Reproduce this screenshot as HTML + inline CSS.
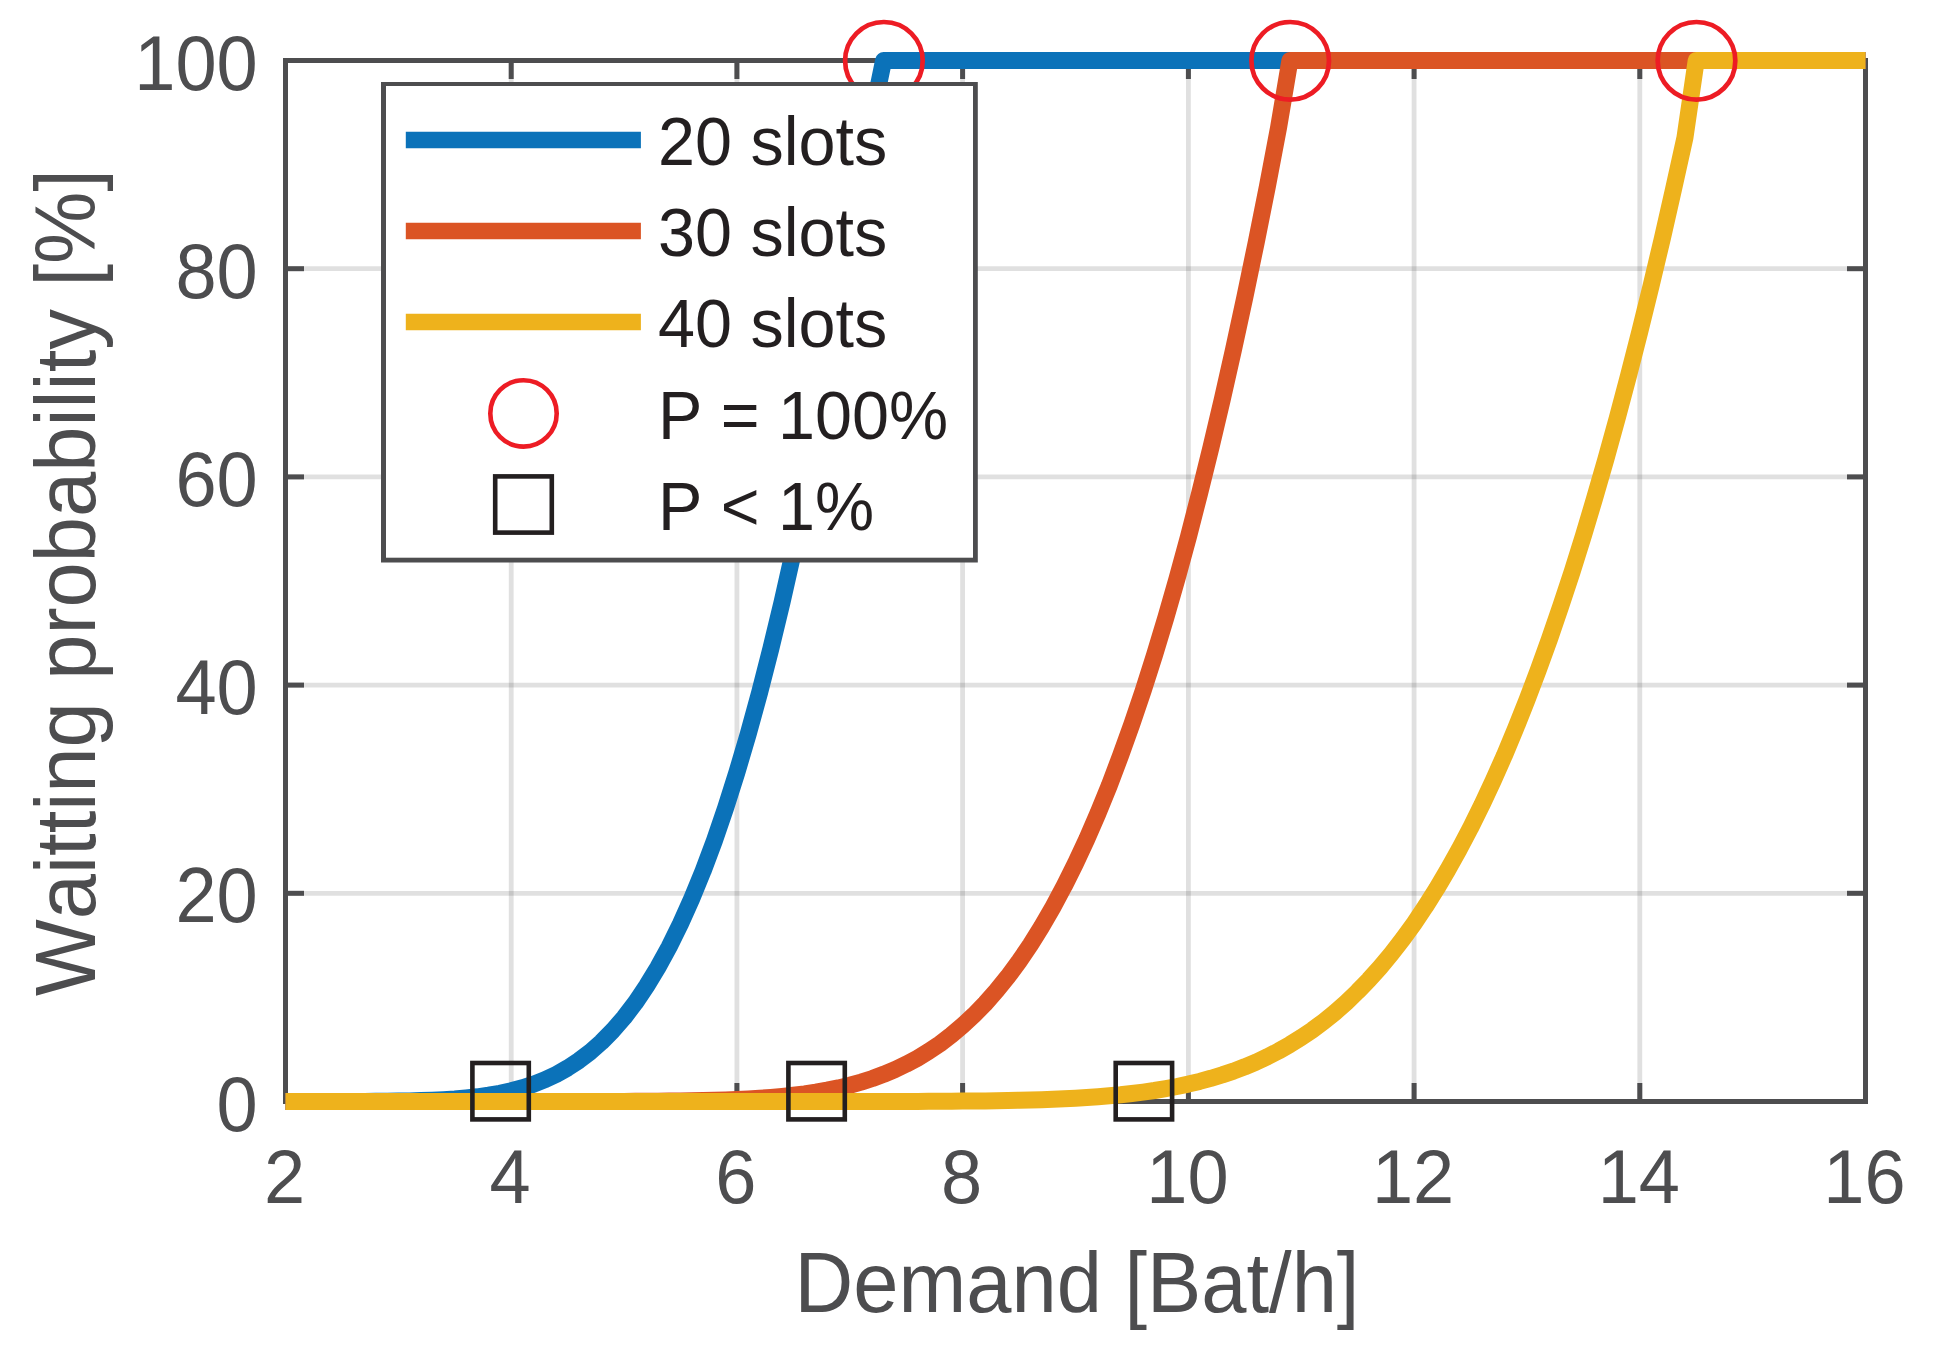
<!DOCTYPE html>
<html><head><meta charset="utf-8"><title>Waitting probability</title>
<style>html,body{margin:0;padding:0;background:#fff}body{width:1937px;height:1359px;overflow:hidden}</style></head>
<body>
<svg width="1937" height="1359" viewBox="0 0 1937 1359" style="display:block;font-family:'Liberation Sans',Arial,sans-serif;font-kerning:none">
<rect width="1937" height="1359" fill="#fff"/>
<line x1="511.2" y1="60.5" x2="511.2" y2="1101.5" stroke="#26262c" stroke-opacity="0.145" stroke-width="4.8"/>
<line x1="736.9" y1="60.5" x2="736.9" y2="1101.5" stroke="#26262c" stroke-opacity="0.145" stroke-width="4.8"/>
<line x1="962.6" y1="60.5" x2="962.6" y2="1101.5" stroke="#26262c" stroke-opacity="0.145" stroke-width="4.8"/>
<line x1="1188.4" y1="60.5" x2="1188.4" y2="1101.5" stroke="#26262c" stroke-opacity="0.145" stroke-width="4.8"/>
<line x1="1414.1" y1="60.5" x2="1414.1" y2="1101.5" stroke="#26262c" stroke-opacity="0.145" stroke-width="4.8"/>
<line x1="1639.8" y1="60.5" x2="1639.8" y2="1101.5" stroke="#26262c" stroke-opacity="0.145" stroke-width="4.8"/>
<line x1="285.5" y1="893.3" x2="1865.5" y2="893.3" stroke="#26262c" stroke-opacity="0.145" stroke-width="4.8"/>
<line x1="285.5" y1="685.1" x2="1865.5" y2="685.1" stroke="#26262c" stroke-opacity="0.145" stroke-width="4.8"/>
<line x1="285.5" y1="476.9" x2="1865.5" y2="476.9" stroke="#26262c" stroke-opacity="0.145" stroke-width="4.8"/>
<line x1="285.5" y1="268.7" x2="1865.5" y2="268.7" stroke="#26262c" stroke-opacity="0.145" stroke-width="4.8"/>
<line x1="511.2" y1="1101.5" x2="511.2" y2="1083.0" stroke="#4d4d4f" stroke-width="5"/>
<line x1="511.2" y1="60.5" x2="511.2" y2="79.0" stroke="#4d4d4f" stroke-width="5"/>
<line x1="736.9" y1="1101.5" x2="736.9" y2="1083.0" stroke="#4d4d4f" stroke-width="5"/>
<line x1="736.9" y1="60.5" x2="736.9" y2="79.0" stroke="#4d4d4f" stroke-width="5"/>
<line x1="962.6" y1="1101.5" x2="962.6" y2="1083.0" stroke="#4d4d4f" stroke-width="5"/>
<line x1="962.6" y1="60.5" x2="962.6" y2="79.0" stroke="#4d4d4f" stroke-width="5"/>
<line x1="1188.4" y1="1101.5" x2="1188.4" y2="1083.0" stroke="#4d4d4f" stroke-width="5"/>
<line x1="1188.4" y1="60.5" x2="1188.4" y2="79.0" stroke="#4d4d4f" stroke-width="5"/>
<line x1="1414.1" y1="1101.5" x2="1414.1" y2="1083.0" stroke="#4d4d4f" stroke-width="5"/>
<line x1="1414.1" y1="60.5" x2="1414.1" y2="79.0" stroke="#4d4d4f" stroke-width="5"/>
<line x1="1639.8" y1="1101.5" x2="1639.8" y2="1083.0" stroke="#4d4d4f" stroke-width="5"/>
<line x1="1639.8" y1="60.5" x2="1639.8" y2="79.0" stroke="#4d4d4f" stroke-width="5"/>
<line x1="285.5" y1="893.3" x2="304.0" y2="893.3" stroke="#4d4d4f" stroke-width="5"/>
<line x1="1865.5" y1="893.3" x2="1847.0" y2="893.3" stroke="#4d4d4f" stroke-width="5"/>
<line x1="285.5" y1="685.1" x2="304.0" y2="685.1" stroke="#4d4d4f" stroke-width="5"/>
<line x1="1865.5" y1="685.1" x2="1847.0" y2="685.1" stroke="#4d4d4f" stroke-width="5"/>
<line x1="285.5" y1="476.9" x2="304.0" y2="476.9" stroke="#4d4d4f" stroke-width="5"/>
<line x1="1865.5" y1="476.9" x2="1847.0" y2="476.9" stroke="#4d4d4f" stroke-width="5"/>
<line x1="285.5" y1="268.7" x2="304.0" y2="268.7" stroke="#4d4d4f" stroke-width="5"/>
<line x1="1865.5" y1="268.7" x2="1847.0" y2="268.7" stroke="#4d4d4f" stroke-width="5"/>
<rect x="285.5" y="60.5" width="1580.0" height="1041.0" fill="none" stroke="#4d4d4f" stroke-width="5"/>
<text transform="translate(284.5 1203.3) scale(1 1.03)" font-size="74" fill="#4d4d4f" text-anchor="middle">2</text>
<text transform="translate(510.2 1203.3) scale(1 1.03)" font-size="74" fill="#4d4d4f" text-anchor="middle">4</text>
<text transform="translate(735.9 1203.3) scale(1 1.03)" font-size="74" fill="#4d4d4f" text-anchor="middle">6</text>
<text transform="translate(961.6 1203.3) scale(1 1.03)" font-size="74" fill="#4d4d4f" text-anchor="middle">8</text>
<text transform="translate(1187.4 1203.3) scale(1 1.03)" font-size="74" fill="#4d4d4f" text-anchor="middle">10</text>
<text transform="translate(1413.1 1203.3) scale(1 1.03)" font-size="74" fill="#4d4d4f" text-anchor="middle">12</text>
<text transform="translate(1638.8 1203.3) scale(1 1.03)" font-size="74" fill="#4d4d4f" text-anchor="middle">14</text>
<text transform="translate(1864.5 1203.3) scale(1 1.03)" font-size="74" fill="#4d4d4f" text-anchor="middle">16</text>
<text transform="translate(257.7 1130.5) scale(1 1.04)" font-size="74" fill="#4d4d4f" text-anchor="end">0</text>
<text transform="translate(257.7 922.3) scale(1 1.04)" font-size="74" fill="#4d4d4f" text-anchor="end">20</text>
<text transform="translate(257.7 714.1) scale(1 1.04)" font-size="74" fill="#4d4d4f" text-anchor="end">40</text>
<text transform="translate(257.7 505.9) scale(1 1.04)" font-size="74" fill="#4d4d4f" text-anchor="end">60</text>
<text transform="translate(257.7 297.7) scale(1 1.04)" font-size="74" fill="#4d4d4f" text-anchor="end">80</text>
<text transform="translate(257.7 89.5) scale(1 1.04)" font-size="74" fill="#4d4d4f" text-anchor="end">100</text>
<text transform="translate(1077.0 1312.3) scale(1 1.04)" font-size="81.3" fill="#4d4d4f" text-anchor="middle">Demand [Bat/h]</text>
<text transform="translate(95.1 582.5) rotate(-90) scale(1 1.04)" font-size="81.3" fill="#4d4d4f" text-anchor="middle">Waitting probability [%]</text>
<polyline points="285.5,1101.5 296.8,1101.5 308.1,1101.5 319.4,1101.5 330.6,1101.5 341.9,1101.5 353.2,1101.4 364.5,1101.4 375.8,1101.3 387.1,1101.2 398.4,1101.1 409.6,1100.9 420.9,1100.6 432.2,1100.2 443.5,1099.7 454.8,1099.0 466.1,1098.0 477.4,1096.8 488.6,1095.2 499.9,1093.3 511.2,1090.8 522.5,1087.8 533.8,1084.1 545.1,1079.7 556.4,1074.3 567.6,1068.0 578.9,1060.6 590.2,1052.0 601.5,1042.0 612.8,1030.5 624.1,1017.5 635.4,1002.7 646.6,986.0 657.9,967.4 669.2,946.7 680.5,923.8 691.8,898.5 703.1,870.9 714.4,840.7 725.6,807.9 736.9,772.4 748.2,734.1 759.5,693.0 770.8,648.9 782.1,601.9 793.4,551.9 804.6,498.8 815.9,442.7 827.2,383.4 838.5,321.0 849.8,255.4 861.1,186.7 872.4,114.8 883.6,60.5 894.9,60.5 906.2,60.5 917.5,60.5 928.8,60.5 940.1,60.5 951.4,60.5 962.6,60.5 973.9,60.5 985.2,60.5 996.5,60.5 1007.8,60.5 1019.1,60.5 1030.4,60.5 1041.6,60.5 1052.9,60.5 1064.2,60.5 1075.5,60.5 1086.8,60.5 1098.1,60.5 1109.4,60.5 1120.6,60.5 1131.9,60.5 1143.2,60.5 1154.5,60.5 1165.8,60.5 1177.1,60.5 1188.4,60.5 1199.6,60.5 1210.9,60.5 1222.2,60.5 1233.5,60.5 1244.8,60.5 1256.1,60.5 1267.4,60.5 1278.6,60.5 1289.9,60.5 1301.2,60.5 1312.5,60.5 1323.8,60.5 1335.1,60.5 1346.4,60.5 1357.6,60.5 1368.9,60.5 1380.2,60.5 1391.5,60.5 1402.8,60.5 1414.1,60.5 1425.4,60.5 1436.6,60.5 1447.9,60.5 1459.2,60.5 1470.5,60.5 1481.8,60.5 1493.1,60.5 1504.4,60.5 1515.6,60.5 1526.9,60.5 1538.2,60.5 1549.5,60.5 1560.8,60.5 1572.1,60.5 1583.4,60.5 1594.6,60.5 1605.9,60.5 1617.2,60.5 1628.5,60.5 1639.8,60.5 1651.1,60.5 1662.4,60.5 1673.6,60.5 1684.9,60.5 1696.2,60.5 1707.5,60.5 1718.8,60.5 1730.1,60.5 1741.4,60.5 1752.6,60.5 1763.9,60.5 1775.2,60.5 1786.5,60.5 1797.8,60.5 1809.1,60.5 1820.4,60.5 1831.6,60.5 1842.9,60.5 1854.2,60.5 1865.5,60.5" fill="none" stroke="#0b72b9" stroke-width="17" stroke-linejoin="round" stroke-linecap="butt"/>
<polyline points="285.5,1101.5 296.8,1101.5 308.1,1101.5 319.4,1101.5 330.6,1101.5 341.9,1101.5 353.2,1101.5 364.5,1101.5 375.8,1101.5 387.1,1101.5 398.4,1101.5 409.6,1101.5 420.9,1101.5 432.2,1101.5 443.5,1101.5 454.8,1101.5 466.1,1101.5 477.4,1101.5 488.6,1101.5 499.9,1101.5 511.2,1101.5 522.5,1101.5 533.8,1101.5 545.1,1101.5 556.4,1101.5 567.6,1101.5 578.9,1101.5 590.2,1101.5 601.5,1101.4 612.8,1101.4 624.1,1101.4 635.4,1101.3 646.6,1101.3 657.9,1101.2 669.2,1101.1 680.5,1101.0 691.8,1100.8 703.1,1100.6 714.4,1100.3 725.6,1099.9 736.9,1099.5 748.2,1099.0 759.5,1098.3 770.8,1097.5 782.1,1096.5 793.4,1095.3 804.6,1093.9 815.9,1092.2 827.2,1090.2 838.5,1087.9 849.8,1085.2 861.1,1082.1 872.4,1078.5 883.6,1074.3 894.9,1069.6 906.2,1064.2 917.5,1058.2 928.8,1051.3 940.1,1043.7 951.4,1035.1 962.6,1025.6 973.9,1015.1 985.2,1003.5 996.5,990.7 1007.8,976.7 1019.1,961.4 1030.4,944.8 1041.6,926.7 1052.9,907.2 1064.2,886.1 1075.5,863.4 1086.8,839.1 1098.1,813.0 1109.4,785.2 1120.6,755.5 1131.9,724.0 1143.2,690.6 1154.5,655.2 1165.8,617.8 1177.1,578.4 1188.4,536.9 1199.6,493.3 1210.9,447.6 1222.2,399.7 1233.5,349.6 1244.8,297.4 1256.1,242.9 1267.4,186.3 1278.6,127.3 1289.9,60.5 1301.2,60.5 1312.5,60.5 1323.8,60.5 1335.1,60.5 1346.4,60.5 1357.6,60.5 1368.9,60.5 1380.2,60.5 1391.5,60.5 1402.8,60.5 1414.1,60.5 1425.4,60.5 1436.6,60.5 1447.9,60.5 1459.2,60.5 1470.5,60.5 1481.8,60.5 1493.1,60.5 1504.4,60.5 1515.6,60.5 1526.9,60.5 1538.2,60.5 1549.5,60.5 1560.8,60.5 1572.1,60.5 1583.4,60.5 1594.6,60.5 1605.9,60.5 1617.2,60.5 1628.5,60.5 1639.8,60.5 1651.1,60.5 1662.4,60.5 1673.6,60.5 1684.9,60.5 1696.2,60.5 1707.5,60.5 1718.8,60.5 1730.1,60.5 1741.4,60.5 1752.6,60.5 1763.9,60.5 1775.2,60.5 1786.5,60.5 1797.8,60.5 1809.1,60.5 1820.4,60.5 1831.6,60.5 1842.9,60.5 1854.2,60.5 1865.5,60.5" fill="none" stroke="#db5424" stroke-width="17" stroke-linejoin="round" stroke-linecap="butt"/>
<polyline points="285.5,1101.5 296.8,1101.5 308.1,1101.5 319.4,1101.5 330.6,1101.5 341.9,1101.5 353.2,1101.5 364.5,1101.5 375.8,1101.5 387.1,1101.5 398.4,1101.5 409.6,1101.5 420.9,1101.5 432.2,1101.5 443.5,1101.5 454.8,1101.5 466.1,1101.5 477.4,1101.5 488.6,1101.5 499.9,1101.5 511.2,1101.5 522.5,1101.5 533.8,1101.5 545.1,1101.5 556.4,1101.5 567.6,1101.5 578.9,1101.5 590.2,1101.5 601.5,1101.5 612.8,1101.5 624.1,1101.5 635.4,1101.5 646.6,1101.5 657.9,1101.5 669.2,1101.5 680.5,1101.5 691.8,1101.5 703.1,1101.5 714.4,1101.5 725.6,1101.5 736.9,1101.5 748.2,1101.5 759.5,1101.5 770.8,1101.5 782.1,1101.5 793.4,1101.5 804.6,1101.5 815.9,1101.5 827.2,1101.5 838.5,1101.5 849.8,1101.5 861.1,1101.5 872.4,1101.5 883.6,1101.4 894.9,1101.4 906.2,1101.4 917.5,1101.4 928.8,1101.3 940.1,1101.3 951.4,1101.2 962.6,1101.1 973.9,1101.0 985.2,1100.9 996.5,1100.7 1007.8,1100.5 1019.1,1100.3 1030.4,1100.0 1041.6,1099.7 1052.9,1099.3 1064.2,1098.8 1075.5,1098.2 1086.8,1097.5 1098.1,1096.7 1109.4,1095.8 1120.6,1094.8 1131.9,1093.5 1143.2,1092.1 1154.5,1090.5 1165.8,1088.6 1177.1,1086.5 1188.4,1084.1 1199.6,1081.4 1210.9,1078.3 1222.2,1074.9 1233.5,1071.1 1244.8,1066.8 1256.1,1062.1 1267.4,1056.8 1278.6,1051.0 1289.9,1044.6 1301.2,1037.6 1312.5,1029.9 1323.8,1021.5 1335.1,1012.3 1346.4,1002.3 1357.6,991.5 1368.9,979.8 1380.2,967.2 1391.5,953.6 1402.8,939.0 1414.1,923.4 1425.4,906.6 1436.6,888.8 1447.9,869.7 1459.2,849.4 1470.5,827.9 1481.8,805.1 1493.1,780.9 1504.4,755.4 1515.6,728.5 1526.9,700.1 1538.2,670.3 1549.5,639.0 1560.8,606.1 1572.1,571.8 1583.4,535.8 1594.6,498.3 1605.9,459.1 1617.2,418.3 1628.5,375.8 1639.8,331.6 1651.1,285.7 1662.4,238.2 1673.6,188.9 1684.9,137.9 1696.2,60.5 1707.5,60.5 1718.8,60.5 1730.1,60.5 1741.4,60.5 1752.6,60.5 1763.9,60.5 1775.2,60.5 1786.5,60.5 1797.8,60.5 1809.1,60.5 1820.4,60.5 1831.6,60.5 1842.9,60.5 1854.2,60.5 1865.5,60.5" fill="none" stroke="#eeb21c" stroke-width="17" stroke-linejoin="round" stroke-linecap="butt"/>
<circle cx="883.9" cy="60.8" r="38.8" fill="none" stroke="#ed1c24" stroke-width="4.7"/>
<circle cx="1290.2" cy="60.8" r="38.8" fill="none" stroke="#ed1c24" stroke-width="4.7"/>
<circle cx="1696.5" cy="60.8" r="38.8" fill="none" stroke="#ed1c24" stroke-width="4.7"/>
<rect x="472.4" y="1063.0" width="56.4" height="56.4" fill="none" stroke="#231f20" stroke-width="4.6"/>
<rect x="788.4" y="1063.0" width="56.4" height="56.4" fill="none" stroke="#231f20" stroke-width="4.6"/>
<rect x="1115.7" y="1063.0" width="56.4" height="56.4" fill="none" stroke="#231f20" stroke-width="4.6"/>
<rect x="381" y="82" width="596.8" height="480.5" fill="#4d4d4f"/>
<rect x="386" y="86" width="587" height="471.7" fill="#fff"/>
<line x1="405.8" y1="140" x2="640.9" y2="140" stroke="#0b72b9" stroke-width="16.5"/>
<line x1="405.8" y1="231" x2="640.9" y2="231" stroke="#db5424" stroke-width="16.5"/>
<line x1="405.8" y1="322" x2="640.9" y2="322" stroke="#eeb21c" stroke-width="16.5"/>
<circle cx="523.5" cy="413.4" r="33.2" fill="none" stroke="#ed1c24" stroke-width="4.6"/>
<rect x="495.2" y="476.4" width="56.6" height="56.2" fill="none" stroke="#231f20" stroke-width="4.6"/>
<text transform="translate(658.0 165.0) scale(1 1.04)" font-size="66.5" fill="#231f20">20 slots</text>
<text transform="translate(658.0 256.0) scale(1 1.04)" font-size="66.5" fill="#231f20">30 slots</text>
<text transform="translate(658.0 347.0) scale(1 1.04)" font-size="66.5" fill="#231f20">40 slots</text>
<text transform="translate(658.0 438.5) scale(1 1.04)" font-size="66.5" fill="#231f20">P = 100%</text>
<text transform="translate(658.0 529.5) scale(1 1.04)" font-size="66.5" fill="#231f20">P &lt; 1%</text>
</svg>
</body></html>
